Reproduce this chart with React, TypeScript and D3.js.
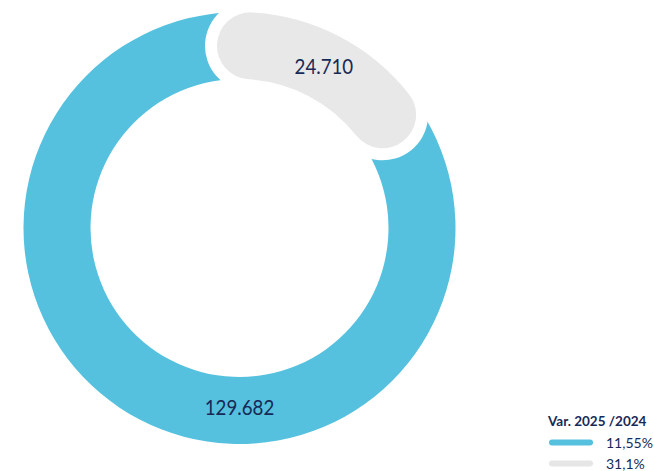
import React, {useEffect, useRef} from 'react';
import * as d3 from 'd3';

// chart data
const categories: string[] = ['2024', '2025'];
const values: number[] = [24710, 129682];
const valueLabels: string[] = ['24.710', '129.682'];
const legendTitle = 'Var. 2025 /2024';
const legendLabels: string[] = ['11,55%', '31,1%'];

const App = () => {
  const ref = useRef<SVGSVGElement>(null);

  useEffect(() => {
    drawChart();
    return () => {
      d3.select(ref.current).selectAll('*').remove();
    };
  }, []);

  const drawChart = () => {
    const width = 653;
    const height = 471;
    const cx = 239.5;
    const cy = 228;
    const outerR = 216;
    const innerR = 149;
    const midR = (outerR + innerR) / 2;
    const thick = outerR - innerR;
    const gap = 12;
    const capInset = 15 / midR; // cap centres sit a bit inside the slice ends

    const blue = '#55c1de';
    const grey = '#e8e8e8';
    const ink = '#172a57';

    const svg = d3.select(ref.current)
      .attr('width', width)
      .attr('height', height);

    const pie = d3.pie<number>()
      .sort(null)
      .startAngle(-0.022)
      .endAngle(2 * Math.PI - 0.022);
    const slices = pie(values);

    const g = svg.append('g').attr('transform', `translate(${cx},${cy})`);

    const arc = d3.arc<d3.PieArcDatum<number>>()
      .innerRadius(innerR)
      .outerRadius(outerR);

    // big blue part (drawn first, its ends get cut by the white halo)
    g.append('path')
      .attr('d', arc(slices[1]) as string)
      .attr('fill', blue);

    // grey part: thick rounded stroke along the middle radius
    const greyPath = (d: d3.PieArcDatum<number>) => {
      const p = d3.path();
      const a0 = d.startAngle + capInset - Math.PI / 2;
      const a1 = d.endAngle - capInset - Math.PI / 2;
      p.moveTo(midR * Math.cos(a0), midR * Math.sin(a0));
      p.arc(0, 0, midR, a0, a1);
      return p.toString();
    };

    g.append('path')
      .attr('d', greyPath(slices[0]))
      .attr('fill', 'none')
      .attr('stroke', '#ffffff')
      .attr('stroke-width', thick + gap * 2)
      .attr('stroke-linecap', 'round');

    g.append('path')
      .attr('d', greyPath(slices[0]))
      .attr('fill', 'none')
      .attr('stroke', grey)
      .attr('stroke-width', thick)
      .attr('stroke-linecap', 'round');

    // value labels
    const labelArc = d3.arc<d3.PieArcDatum<number>>()
      .innerRadius(midR)
      .outerRadius(midR);
    const greyPos = labelArc.centroid(slices[0]);
    const bluePos = [0, midR - 3];
    const labelPos = [greyPos, bluePos];

    g.selectAll('.value')
      .data(slices)
      .enter().append('text')
      .attr('class', 'value')
      .attr('transform', (d, i) => `translate(${labelPos[i][0]},${labelPos[i][1]}) scale(0.85,1)`)
      .attr('text-anchor', 'middle')
      .attr('dy', '0.36em')
      .attr('font-family', 'Lato, sans-serif')
      .attr('font-size', 22)
      .attr('fill', ink)
      .text((d, i) => valueLabels[i]);

    // legend
    const lx = 549;
    const legend = svg.append('g').attr('transform', `translate(${lx},0)`);
    legend.append('text')
      .attr('x', -1)
      .attr('y', 426)
      .attr('font-family', 'Lato, sans-serif')
      .attr('font-weight', 'bold')
      .attr('font-size', 13.5)
      .attr('fill', ink)
      .text(legendTitle);

    const legendColors = [blue, '#e6e6e6'];
    const ly = d3.scaleBand<string>()
      .domain(categories)
      .range([432, 474]);

    const item = legend.selectAll('.item')
      .data(categories)
      .enter().append('g')
      .attr('class', 'item')
      .attr('transform', d => `translate(0,${(ly(d) as number) + ly.bandwidth() / 2})`);

    item.append('line')
      .attr('x1', 3)
      .attr('x2', 41)
      .attr('stroke', (d, i) => legendColors[i])
      .attr('stroke-width', 6)
      .attr('stroke-linecap', 'round');

    item.append('text')
      .attr('x', 57)
      .attr('dy', '0.36em')
      .attr('font-family', 'Lato, sans-serif')
      .attr('font-size', 14)
      .attr('fill', ink)
      .text((d, i) => legendLabels[i]);
  };

  return (
    <svg ref={ref} style={{position: 'absolute', left: 0, top: 0}}></svg>
  );
};

export default App;
